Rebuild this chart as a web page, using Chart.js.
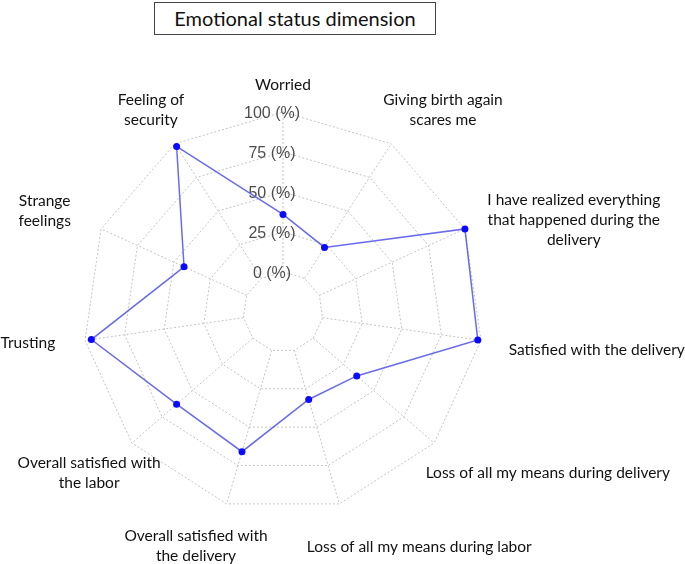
<!DOCTYPE html>
<html>
<head>
<meta charset="utf-8">
<script src="https://cdn.jsdelivr.net/npm/chart.js@4/dist/chart.umd.min.js"></script>
<style>
  html, body { margin: 0; padding: 0; background: #fff; }
  #wrap { position: relative; width: 685px; height: 564px; }
  #chartTitle {
    position: absolute;
    left: 154px;
    top: 2px;
    width: 280px;
    height: 31px;
    border: 1px solid #444;
    font-family: Lato, "Open Sans", sans-serif;
    font-size: 20px;
    line-height: 31px;
    text-align: center;
    color: #111;
    background: #fff;
  }
</style>
</head>
<body>
<div id="wrap">
  <canvas id="radarChart"></canvas>
  <div id="chartTitle">Emotional status dimension</div>
</div>
<script>
// Axis names (clockwise from the top), one array entry per line of text
const categories = [
  ["Worried"],
  ["Giving birth again", "scares me"],
  ["I have realized everything", "that happened during the", "delivery"],
  ["Satisfied with the delivery"],
  ["Loss of all my means during delivery"],
  ["Loss of all my means during labor"],
  ["Overall satisfied with", "the delivery"],
  ["Overall satisfied with", "the labor"],
  ["Trusting"],
  ["Strange", "feelings"],
  ["Feeling of", "security"],
];

// Percentage per axis
const values = [36, 23, 100, 98, 36, 32, 66, 63, 96, 43, 98];

// Rings that get a label
const tickValues = [0, 25, 50, 75, 100];
const tickLabels = ["0 (%)", "25 (%)", "50 (%)", "75 (%)", "100 (%)"];

// Label placement: px beyond the outer ring, and a small angular nudge (deg)
const labelGap = [27, 58, 105, 116, 110, 72, 50, 52, 57, 59, 41];
const labelNudge = [0, 5.6, 7, -1.3, -9.6, -13.7, 4, 1.2, 1.3, -1.5, -0.5];

const GRID_COLOR = "#c4c4c4";
const GRID_DASH = [2, 2];

/**
 * Extra drawing the radial scale can't do on its own:
 * spokes that start at the 0 ring, offset tick labels, free-placed axis names
 */
const radarExtras = {
  id: "radarExtras",

  beforeDatasetsDraw(chart) {
    const scale = chart.scales.r;
    const ctx = chart.ctx;
    const inner = scale.getDistanceFromCenterForValue(0);
    const outer = scale.getDistanceFromCenterForValue(100);

    ctx.save();
    ctx.strokeStyle = GRID_COLOR;
    ctx.lineWidth = 1;
    ctx.setLineDash(GRID_DASH);
    for (let i = 0; i < categories.length; i++) {
      const a = scale.getPointPosition(i, inner);
      const b = scale.getPointPosition(i, outer);
      ctx.beginPath();
      ctx.moveTo(a.x, a.y);
      ctx.lineTo(b.x, b.y);
      ctx.stroke();
    }
    ctx.restore();

    // Tick labels sit a little left of the vertical spoke
    ctx.save();
    ctx.font = "16px 'Liberation Sans', Arial, sans-serif";
    ctx.fillStyle = "#4d4d4d";
    ctx.textAlign = "center";
    ctx.textBaseline = "middle";
    tickValues.forEach((v, i) => {
      const d = scale.getDistanceFromCenterForValue(v);
      ctx.fillText(tickLabels[i], scale.xCenter - 11, scale.yCenter - d + 2);
    });
    ctx.restore();
  },

  afterDraw(chart) {
    const scale = chart.scales.r;
    const ctx = chart.ctx;
    const lineHeight = 20;

    ctx.save();
    ctx.font = "15.5px Lato, 'Open Sans', sans-serif";
    ctx.fillStyle = "#111";
    ctx.textAlign = "center";
    ctx.textBaseline = "middle";
    categories.forEach((lines, i) => {
      const pos = scale.getPointPosition(
        i,
        scale.drawingArea + labelGap[i],
        (labelNudge[i] * Math.PI) / 180,
      );
      const top = pos.y - ((lines.length - 1) * lineHeight) / 2;
      lines.forEach((line, k) => {
        ctx.fillText(line, pos.x, top + k * lineHeight);
      });
    });
    ctx.restore();
  },
};

const ctx = document.getElementById("radarChart");

new Chart(ctx, {
  type: "radar",
  data: {
    labels: categories,
    datasets: [
      {
        label: "Emotional status",
        data: values,
        borderColor: "rgba(90, 90, 235, 0.9)",
        borderWidth: 1.5,
        backgroundColor: "transparent",
        fill: false,
        pointBackgroundColor: "#0a0aff",
        pointBorderWidth: 0,
        pointRadius: 3.5,
        tension: 0,
      },
    ],
  },
  options: {
    responsive: true,
    maintainAspectRatio: false,
    animation: false,
    layout: {
      padding: { left: 83, right: 202, top: 112, bottom: 52 },
    },
    plugins: {
      legend: { display: false },
      tooltip: { enabled: false },
      title: { display: false },
    },
    scales: {
      r: {
        min: -25,
        max: 100,
        ticks: { stepSize: 25, display: false },
        pointLabels: { display: false },
        angleLines: { display: false },
        grid: {
          circular: false,
          lineWidth: 1,
          color: (c) => (c.tick && c.tick.value < 0 ? "transparent" : GRID_COLOR),
        },
        border: { dash: GRID_DASH },
      },
    },
  },
  plugins: [radarExtras],
});
</script>
</body>
</html>
